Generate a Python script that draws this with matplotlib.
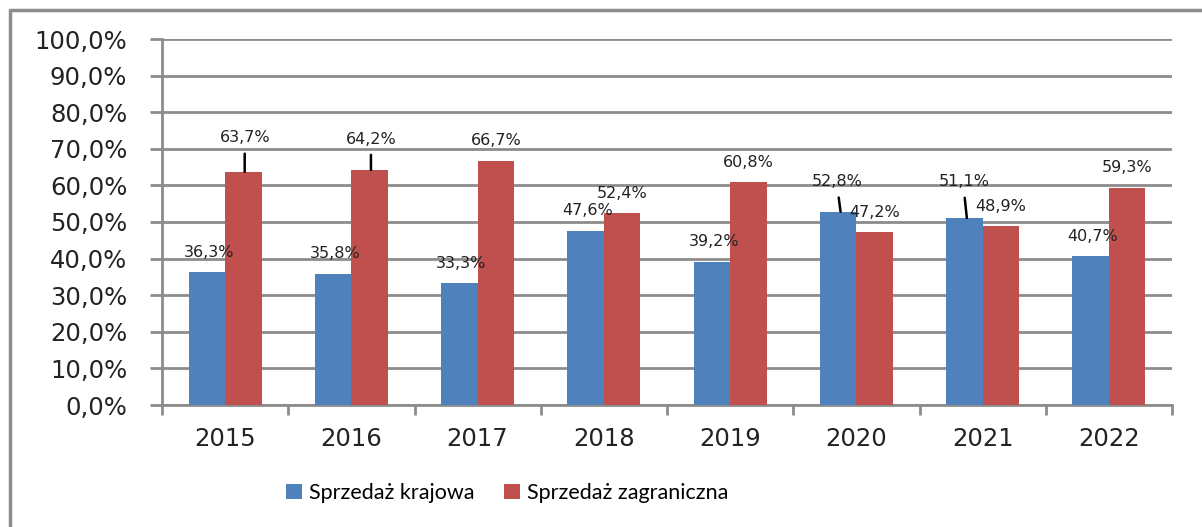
import numpy as np
import matplotlib.pyplot as plt
from matplotlib.lines import Line2D

# Dane
lata = ['2015', '2016', '2017', '2018', '2019', '2020', '2021', '2022']
krajowa = [36.3, 35.8, 33.3, 47.6, 39.2, 52.8, 51.1, 40.7]
zagraniczna = [63.7, 64.2, 66.7, 52.4, 60.8, 47.2, 48.9, 59.3]
nazwy = ['Sprzedaż krajowa', 'Sprzedaż zagraniczna']

niebieski = '#4F81BD'
czerwony = '#C0504D'
szary = '#8C8C8C'

W, H = 1202, 527
fig = plt.figure(figsize=(W / 100, H / 100), dpi=100)
ax = fig.add_axes([162 / W, 1 - 405 / H, (1172 - 162) / W, (405 - 39) / H])

x = np.arange(len(lata))
szer = 0.29
b1 = ax.bar(x - szer / 2, krajowa, szer, color=niebieski, label=nazwy[0], zorder=3)
b2 = ax.bar(x + szer / 2, zagraniczna, szer, color=czerwony, label=nazwy[1], zorder=3)

# Etykiety danych (przesunięcie w pikselach nad słupkiem, linia odniesienia)
def etykieta(xx, v, dy=20, linia=False, dx=0):
    txt = ('%.1f%%' % v).replace('.', ',')
    if linia:
        ax.annotate(txt, xy=(xx, v), xytext=(dx, dy), textcoords='offset pixels',
                    ha='center', va='center', fontsize=11.5, color='#222222',
                    arrowprops=dict(arrowstyle='-', lw=1.8, color='black',
                                    shrinkA=4, shrinkB=0, relpos=(0.5, 0)),
                    zorder=5)
    else:
        ax.annotate(txt, xy=(xx, v), xytext=(dx, dy), textcoords='offset pixels',
                    ha='center', va='center', fontsize=11.5, color='#222222', zorder=5)

linie_k = {5: 30, 6: 36}
linie_z = {0: 34, 1: 31}
for i in range(len(lata)):
    if i in linie_k:
        etykieta(x[i] - szer / 2 + 0.02, krajowa[i], linie_k[i], True, -3)
    else:
        etykieta(x[i] - szer / 2, krajowa[i], 20, False, 2)
    if i in linie_z:
        etykieta(x[i] + szer / 2 + 0.01, zagraniczna[i], linie_z[i], True, 0)
    else:
        etykieta(x[i] + szer / 2, zagraniczna[i], 20)

ax.set_xlim(-0.5, len(lata) - 0.5)
ax.set_ylim(0, 100)
ax.set_yticks(np.arange(0, 101, 10))
ax.set_yticklabels([('%.1f%%' % v).replace('.', ',') for v in np.arange(0, 101, 10)])
ax.set_xticks(x)
ax.set_xticklabels(lata)
ax.set_xticks(np.arange(-0.5, len(lata), 1), minor=True)

ax.grid(axis='y', color=szary, lw=2, zorder=0)
ax.tick_params(axis='y', length=9, width=2, color=szary, pad=16, labelsize=17.5, labelcolor='#222222')
ax.tick_params(axis='x', which='major', length=0, pad=16, labelsize=17.5, labelcolor='#222222')
ax.tick_params(axis='x', which='minor', length=7, width=2, color=szary)

for s in ['top', 'right']:
    ax.spines[s].set_visible(False)
for s in ['left', 'bottom']:
    ax.spines[s].set_color(szary)
    ax.spines[s].set_linewidth(2)

# Ramka wykresu
fig.add_artist(Line2D([10 / W, 10 / W, 1.0], [0, 1 - 10 / H, 1 - 10 / H],
                      color=szary, lw=2.5, transform=fig.transFigure))

fig.legend(handles=[b1, b2], loc='center left', bbox_to_anchor=(286 / W, 1 - 493 / H),
           frameon=False, ncol=2, prop={'family': 'Lato', 'size': 15.5},
           handlelength=0.75, handleheight=0.75, handletextpad=0.3, columnspacing=1.4,
           borderpad=0, borderaxespad=0)

fig.savefig('out.png', dpi=100)
